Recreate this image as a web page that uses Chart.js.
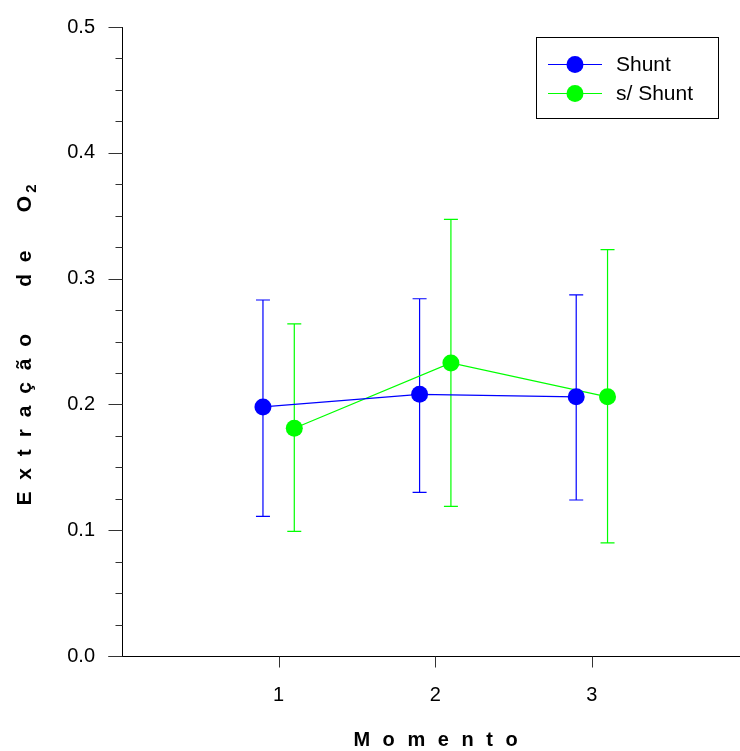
<!DOCTYPE html>
<html>
<head>
<meta charset="utf-8">
<script src="https://cdn.jsdelivr.net/npm/chart.js@4.4.1/dist/chart.umd.min.js"></script>
<style>
  html, body { margin: 0; padding: 0; background: #fff; overflow: hidden; }
  canvas { display: block; }
</style>
</head>
<body>
<canvas id="grafica" width="757" height="751"></canvas>
<script>
// Datos
const momentos = [1, 2, 3];
const seriesNombres = ["Shunt", "s/ Shunt"];
const shuntMedia = [0.198, 0.208, 0.206];
const shuntSup = [0.283, 0.284, 0.287];
const shuntInf = [0.111, 0.130, 0.124];
const sinShuntMedia = [0.181, 0.233, 0.206];
const sinShuntSup = [0.264, 0.347, 0.323];
const sinShuntInf = [0.099, 0.119, 0.090];
const etiquetasY = [0.0, 0.1, 0.2, 0.3, 0.4, 0.5];

const desplazamiento = 0.1; // separacion entre las dos series en cada momento

function armarPuntos(medias, signo) {
  return momentos.map((m, i) => ({ x: m + signo * desplazamiento, y: medias[i] }));
}

const barrasError = [
  { sup: shuntSup, inf: shuntInf },
  { sup: sinShuntSup, inf: sinShuntInf }
];

// barras de error con las escalas del grafico
const pluginErrores = {
  id: 'errores',
  beforeDatasetsDraw(chart) {
    const ctx = chart.ctx;
    const xs = chart.scales.x, ys = chart.scales.y;
    chart.data.datasets.forEach((ds, d) => {
      ctx.save();
      ctx.strokeStyle = ds.borderColor;
      ctx.lineWidth = 1.2;
      ds.data.forEach((p, i) => {
        const px = xs.getPixelForValue(p.x);
        const y1 = ys.getPixelForValue(barrasError[d].sup[i]);
        const y2 = ys.getPixelForValue(barrasError[d].inf[i]);
        ctx.beginPath();
        ctx.moveTo(px, y1); ctx.lineTo(px, y2);
        ctx.moveTo(px - 7, y1); ctx.lineTo(px + 7, y1);
        ctx.moveTo(px - 7, y2); ctx.lineTo(px + 7, y2);
        ctx.stroke();
      });
      ctx.restore();
    });
  }
};

// ejes, marcas menores, titulos y leyenda
const pluginEjes = {
  id: 'ejes',
  afterDraw(chart) {
    const ctx = chart.ctx;
    const area = chart.chartArea;
    const xs = chart.scales.x, ys = chart.scales.y;
    ctx.save();
    ctx.strokeStyle = '#000';
    ctx.lineWidth = 1;
    const x0 = Math.round(area.left) + 0.5;
    const y0 = Math.round(area.bottom) + 0.5;
    ctx.beginPath();
    ctx.moveTo(x0, area.top); ctx.lineTo(x0, y0);
    ctx.moveTo(x0 - 14, y0); ctx.lineTo(area.right + 5, y0);
    ctx.stroke();

    ctx.strokeStyle = '#333';
    ctx.beginPath();
    for (let v = 0; v <= 0.5001; v += 0.025) {
      const y = Math.round(ys.getPixelForValue(v)) + 0.5;
      const mayor = Math.abs(v * 10 - Math.round(v * 10)) < 1e-6;
      ctx.moveTo(x0 - (mayor ? 14 : 7), y); ctx.lineTo(x0, y);
    }
    momentos.forEach(m => {
      const x = Math.round(xs.getPixelForValue(m)) + 0.5;
      ctx.moveTo(x, y0); ctx.lineTo(x, y0 + 11);
    });
    ctx.stroke();
    ctx.restore();

    // titulo eje x
    ctx.save();
    ctx.fillStyle = '#000';
    ctx.font = 'bold 20px Arial, "Liberation Sans"';
    ctx.textAlign = 'center';
    ctx.textBaseline = 'alphabetic';
    ctx.letterSpacing = '3.5px';
    ctx.fillText('M o m e n t o', xs.getPixelForValue(2) + 2, 746);
    ctx.restore();

    // titulo eje y con subindice
    ctx.save();
    ctx.fillStyle = '#000';
    ctx.letterSpacing = '3px';
    ctx.translate(31, (area.top + area.bottom) / 2);
    ctx.rotate(-Math.PI / 2);
    const principal = 'E x t r a ç ã o     d e    O';
    ctx.textAlign = 'left';
    ctx.font = 'bold 21px Arial, "Liberation Sans"';
    const w1 = ctx.measureText(principal).width;
    ctx.font = 'bold 15px Arial, "Liberation Sans"';
    const w2 = ctx.measureText('2').width;
    const inicio = -(w1 + w2) / 2 - 2;
    ctx.font = 'bold 21px Arial, "Liberation Sans"';
    ctx.fillText(principal, inicio, 0);
    ctx.font = 'bold 15px Arial, "Liberation Sans"';
    ctx.fillText('2', inicio + w1, 5);
    ctx.restore();

    // leyenda
    ctx.save();
    ctx.strokeStyle = '#000';
    ctx.lineWidth = 1;
    ctx.strokeRect(536.5, 37.5, 182, 81);
    ctx.font = '21px Arial, "Liberation Sans"';
    ctx.textBaseline = 'middle';
    ctx.textAlign = 'left';
    chart.data.datasets.forEach((ds, i) => {
      const y = 64 + i * 29 + 0.5;
      ctx.strokeStyle = ds.borderColor;
      ctx.beginPath();
      ctx.moveTo(548, y); ctx.lineTo(602, y);
      ctx.stroke();
      ctx.fillStyle = ds.pointBackgroundColor;
      ctx.beginPath();
      ctx.arc(575, y, 8.5, 0, Math.PI * 2);
      ctx.fill();
      ctx.fillStyle = '#000';
      ctx.fillText(ds.label, 616, y + 1);
    });
    ctx.restore();
  }
};

new Chart(document.getElementById('grafica').getContext('2d'), {
  type: 'scatter',
  data: {
    datasets: [
      {
        label: seriesNombres[0],
        data: armarPuntos(shuntMedia, -1),
        showLine: true,
        borderColor: '#0000ff',
        backgroundColor: '#0000ff',
        pointBackgroundColor: '#0000ff',
        borderWidth: 1.2,
        pointRadius: 8.5,
        pointBorderWidth: 0
      },
      {
        label: seriesNombres[1],
        data: armarPuntos(sinShuntMedia, 1),
        showLine: true,
        borderColor: '#00ff00',
        backgroundColor: '#00ff00',
        pointBackgroundColor: '#00ff00',
        borderWidth: 1.2,
        pointRadius: 8.5,
        pointBorderWidth: 0
      }
    ]
  },
  options: {
    responsive: false,
    animation: false,
    layout: { padding: { top: 27, right: 1, left: 0, bottom: 0 } },
    plugins: {
      legend: { display: false },
      tooltip: { enabled: false }
    },
    scales: {
      x: {
        type: 'linear',
        min: 0,
        max: 4,
        grid: { display: false, drawTicks: false },
        border: { display: false },
        afterFit: (s) => { s.height = 95; s.paddingLeft = 0; s.paddingRight = 0; },
        ticks: {
          stepSize: 1,
          padding: 27,
          color: '#000',
          font: { family: 'Arial, "Liberation Sans"', size: 20 },
          callback: (v) => momentos.includes(v) ? String(v) : ''
        }
      },
      y: {
        min: 0,
        max: 0.5,
        grid: { display: false, drawTicks: false },
        border: { display: false },
        afterFit: (s) => { s.width = 122; s.paddingTop = 0; s.paddingBottom = 0; },
        afterBuildTicks: (s) => { s.ticks = etiquetasY.map(v => ({ value: v })); },
        ticks: {
          padding: 27,
          color: '#000',
          font: { family: 'Arial, "Liberation Sans"', size: 20 },
          callback: (v) => Number(v).toFixed(1)
        }
      }
    }
  },
  plugins: [pluginErrores, pluginEjes]
});
</script>
</body>
</html>
